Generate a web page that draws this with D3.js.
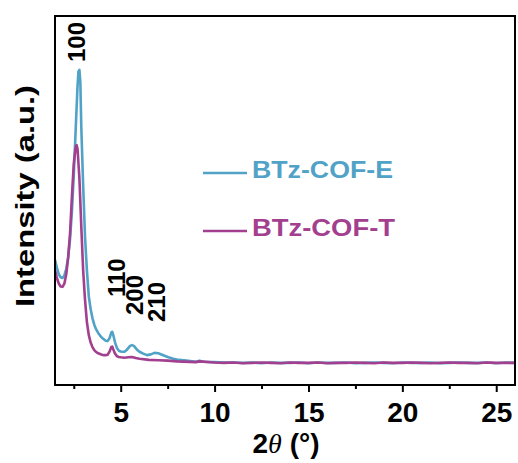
<!DOCTYPE html>
<html>
<head>
<meta charset="utf-8">
<script src="https://cdn.jsdelivr.net/npm/d3@7"></script>
<style>
  body { margin: 0; background: #fff; }
  text { font-family: "Liberation Sans", Arial, sans-serif; font-weight: bold; }
</style>
</head>
<body>
<script>
// XRD patterns of two COFs (2theta in degrees, intensity a.u.)
var thetaE = [1.5,1.6,1.7,1.8,1.9,2.0,2.1,2.2,2.3,2.4,2.5,2.6,2.7,2.75,2.8,2.85,2.9,3.0,3.1,3.2,3.3,3.4,3.5,3.6,3.7,3.8,3.9,4.0,4.1,4.2,4.3,4.4,4.5,4.55,4.6,4.7,4.8,4.9,5.0,5.1,5.2,5.3,5.4,5.5,5.6,5.7,5.8,5.9,6.0,6.2,6.4,6.6,6.8,7.0,7.2,7.5,7.8,8.1,8.5,9.0,9.2,9.4,10,10.5,11,11.5,12,12.5,13,13.5,14,14.5,15,15.5,16,16.5,17,17.5,18,18.5,19,19.5,20,20.5,21,21.5,22,22.5,23,23.5,24,24.5,25,25.5,26];
var intE = [339,318,300,292,290,297,315,345,395,470,570,690,810,850,854,820,700,540,400,310,240,205,180,162,150,141,134,128,124,120,119,126,142,144,136,115,100,93,91,90,90,94,100,106,108,106,100,94,90,85,81,83,87,86,82,76,71,68,66,63,66,63,62,61,61,60,61,59,61,60,60,61,59,61,60,60,61,59,60,61,60,59,61,60,60,61,59,60,61,60,60,61,59,61,60];

var thetaT = [1.5,1.6,1.7,1.8,1.9,2.0,2.1,2.2,2.3,2.4,2.5,2.6,2.65,2.7,2.8,2.9,3.0,3.1,3.2,3.3,3.4,3.5,3.6,3.7,3.8,3.9,4.0,4.1,4.2,4.3,4.4,4.5,4.55,4.6,4.7,4.8,4.9,5.0,5.2,5.4,5.6,5.8,6.0,6.5,7.0,7.5,8,9,9.2,10,10.5,11,11.5,12,12.5,13,13.5,14,14.5,15,15.5,16,16.5,17,17.5,18,18.5,19,19.5,20,20.5,21,21.5,22,22.5,23,23.5,24,24.5,25,25.5,26];
var intT = [311,290,275,267,266,275,300,345,410,510,600,645,650,640,560,430,310,230,170,135,115,102,94,89,86,84,82,81,81,82,90,103,104,97,85,78,76,75,74,75,76,73,71,68,67,66,64,62,64,61,60,61,59,60,61,60,59,61,60,60,61,59,60,60,61,60,59,61,60,60,61,60,59,60,61,60,60,59,61,60,60,60];

var seriesNames = ["BTz-COF-E", "BTz-COF-T"];
var seriesColors = ["#51a2c7", "#a2408f"];

var xTicks = [5, 10, 15, 20, 25];
var xMinor = [2.5, 7.5, 12.5, 17.5, 22.5];

// hkl labels
var peakLabels = ["100", "110", "200", "210"];

(function(){

var width = 518, height = 463;
var left = 55, right = 515, top = 16, bottom = 385;

var svg = d3.select("body").append("svg")
  .attr("width", width)
  .attr("height", height);

var x = d3.scaleLinear().domain([1.5, 26]).range([left, right]);
var y = d3.scaleLinear().domain([0, 1000]).range([bottom, top]);

var line = d3.line()
  .x(function(d){ return x(d[0]); })
  .y(function(d){ return y(d[1]); });

// E first, T on top
var series = [d3.zip(thetaE, intE), d3.zip(thetaT, intT)];
series.forEach(function(s, i){
  svg.append("path")
    .datum(s)
    .attr("fill", "none")
    .attr("stroke", seriesColors[i])
    .attr("stroke-width", 2.6)
    .attr("stroke-linejoin", "round")
    .attr("d", line);
});

// x axis with major + minor ticks
var xAxis = svg.append("g")
  .attr("transform", "translate(0," + bottom + ")")
  .call(d3.axisBottom(x).tickValues(xTicks).tickSize(7).tickSizeOuter(0));
xAxis.select(".domain").remove();
xAxis.selectAll("line").attr("stroke", "#000").attr("stroke-width", 2);
xAxis.selectAll("text")
  .attr("y", 37)
  .attr("dy", 0)
  .attr("fill", "#000")
  .style("font-size", "28px")
  .style("font-family", "'Liberation Sans', Arial, sans-serif")
  .style("font-weight", "bold");

svg.append("g")
  .attr("transform", "translate(0," + bottom + ")")
  .call(d3.axisBottom(x).tickValues(xMinor).tickSize(4).tickFormat(""))
  .call(function(g){ g.select(".domain").remove(); })
  .selectAll("line").attr("stroke", "#000").attr("stroke-width", 2);

// frame
svg.append("rect")
  .attr("x", left).attr("y", top)
  .attr("width", right - left).attr("height", bottom - top)
  .attr("fill", "none")
  .attr("stroke", "#000")
  .attr("stroke-width", 2);

// peak (hkl) labels, rotated
var labelPos = [[85, 62], [125, 297], [143, 315], [165, 322]];
peakLabels.forEach(function(lab, i){
  svg.append("text")
    .attr("transform", "translate(" + labelPos[i][0] + "," + labelPos[i][1] + ") rotate(-90)")
    .attr("font-size", 24)
    .text(lab);
});

// legend
var legY = [173, 231];
seriesNames.forEach(function(name, i){
  svg.append("line")
    .attr("x1", 203).attr("x2", 247)
    .attr("y1", legY[i]).attr("y2", legY[i])
    .attr("stroke", seriesColors[i])
    .attr("stroke-width", 2.5);
  svg.append("text")
    .attr("x", 252)
    .attr("y", legY[i] + 5)
    .attr("font-size", 24)
    .attr("textLength", i == 0 ? 141 : 143)
    .attr("lengthAdjust", "spacingAndGlyphs")
    .attr("fill", seriesColors[i])
    .text(name);
});

// axis titles
var xt = svg.append("text")
  .attr("x", 286)
  .attr("y", 453)
  .attr("text-anchor", "middle")
  .attr("font-size", 28);
xt.append("tspan").text("2");
xt.append("tspan")
  .style("font-family", "'Liberation Serif', 'Times New Roman', serif")
  .style("font-style", "italic")
  .style("font-weight", "normal")
  .text("\u03b8");
xt.append("tspan").text(" (\u00b0)");

svg.append("text")
  .attr("transform", "translate(34,196) rotate(-90)")
  .attr("text-anchor", "middle")
  .attr("font-size", 25)
  .attr("textLength", 222)
  .attr("lengthAdjust", "spacingAndGlyphs")
  .text("Intensity (a.u.)");

})();
</script>
</body>
</html>
